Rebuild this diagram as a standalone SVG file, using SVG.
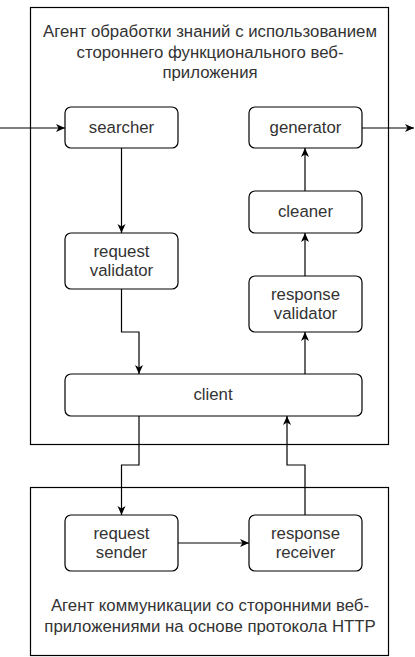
<svg xmlns="http://www.w3.org/2000/svg" width="415" height="657" viewBox="0 0 415 657">
<defs>
<style>
.box{fill:#fff;stroke:#000;stroke-width:1.2}
.node{fill:#fff;stroke:#000;stroke-width:1.2}
.t{font-family:"Liberation Sans",Arial,sans-serif;font-size:16.8px;fill:#333;text-anchor:middle}
.e{fill:none;stroke:#000;stroke-width:1.2}
</style>
<marker id="arr" markerUnits="userSpaceOnUse" markerWidth="10" markerHeight="10" refX="9" refY="4" orient="auto">
<path d="M0,0 L9,4 L0,8 L2.5,4 Z" fill="#000"/>
</marker>
</defs>
<rect width="415" height="657" fill="#fff"/>
<g id="agent1">
<rect class="box" x="30.5" y="7.5" width="358" height="437"/>
<text class="t" x="210" y="37">Агент обработки знаний с использованием</text>
<text class="t" x="210" y="58">стороннего функционального веб-</text>
<text class="t" x="210" y="78">приложения</text>
</g>
<g id="agent2">
<rect class="box" x="30.5" y="487.5" width="358" height="168"/>
<text class="t" x="210" y="611">Агент коммуникации со сторонними веб-</text>
<text class="t" x="210" y="632">приложениями на основе протокола HTTP</text>
</g>
<g id="connectors">
<path class="e" d="M0,128 H65" marker-end="url(#arr)"/>
<path class="e" d="M362,128 H414" marker-end="url(#arr)"/>
<path class="e" d="M121.5,148 V233" marker-end="url(#arr)"/>
<path class="e" d="M121.5,289 V332 H139 V374" marker-end="url(#arr)"/>
<path class="e" d="M305,374 V332" marker-end="url(#arr)"/>
<path class="e" d="M305,276 V233" marker-end="url(#arr)"/>
<path class="e" d="M305,191 V148" marker-end="url(#arr)"/>
<path class="e" d="M139,416 V465 H121.5 V515" marker-end="url(#arr)"/>
<path class="e" d="M305,515 V465 H287 V416" marker-end="url(#arr)"/>
<path class="e" d="M178,543 H249" marker-end="url(#arr)"/>
</g>
<g id="searcher">
<rect class="node" x="65" y="107" width="113" height="41" rx="6"/>
<text class="t" x="121.5" y="133">searcher</text>
</g>
<g id="generator">
<rect class="node" x="249" y="107" width="113" height="41" rx="6"/>
<text class="t" x="305.5" y="133">generator</text>
</g>
<g id="cleaner">
<rect class="node" x="249" y="191" width="113" height="42" rx="6"/>
<text class="t" x="305.5" y="217">cleaner</text>
</g>
<g id="request-validator">
<rect class="node" x="65" y="233" width="113" height="56" rx="6"/>
<text class="t" x="121.5" y="257">request</text>
<text class="t" x="121.5" y="276">validator</text>
</g>
<g id="response-validator">
<rect class="node" x="249" y="276" width="113" height="56" rx="6"/>
<text class="t" x="305.5" y="300">response</text>
<text class="t" x="305.5" y="319">validator</text>
</g>
<g id="client">
<rect class="node" x="65" y="374" width="297" height="42" rx="6"/>
<text class="t" x="213" y="400">client</text>
</g>
<g id="request-sender">
<rect class="node" x="65" y="515" width="113" height="56" rx="6"/>
<text class="t" x="121.5" y="539">request</text>
<text class="t" x="121.5" y="558">sender</text>
</g>
<g id="response-receiver">
<rect class="node" x="249" y="515" width="113" height="56" rx="6"/>
<text class="t" x="305.5" y="539">response</text>
<text class="t" x="305.5" y="558">receiver</text>
</g>
</svg>
